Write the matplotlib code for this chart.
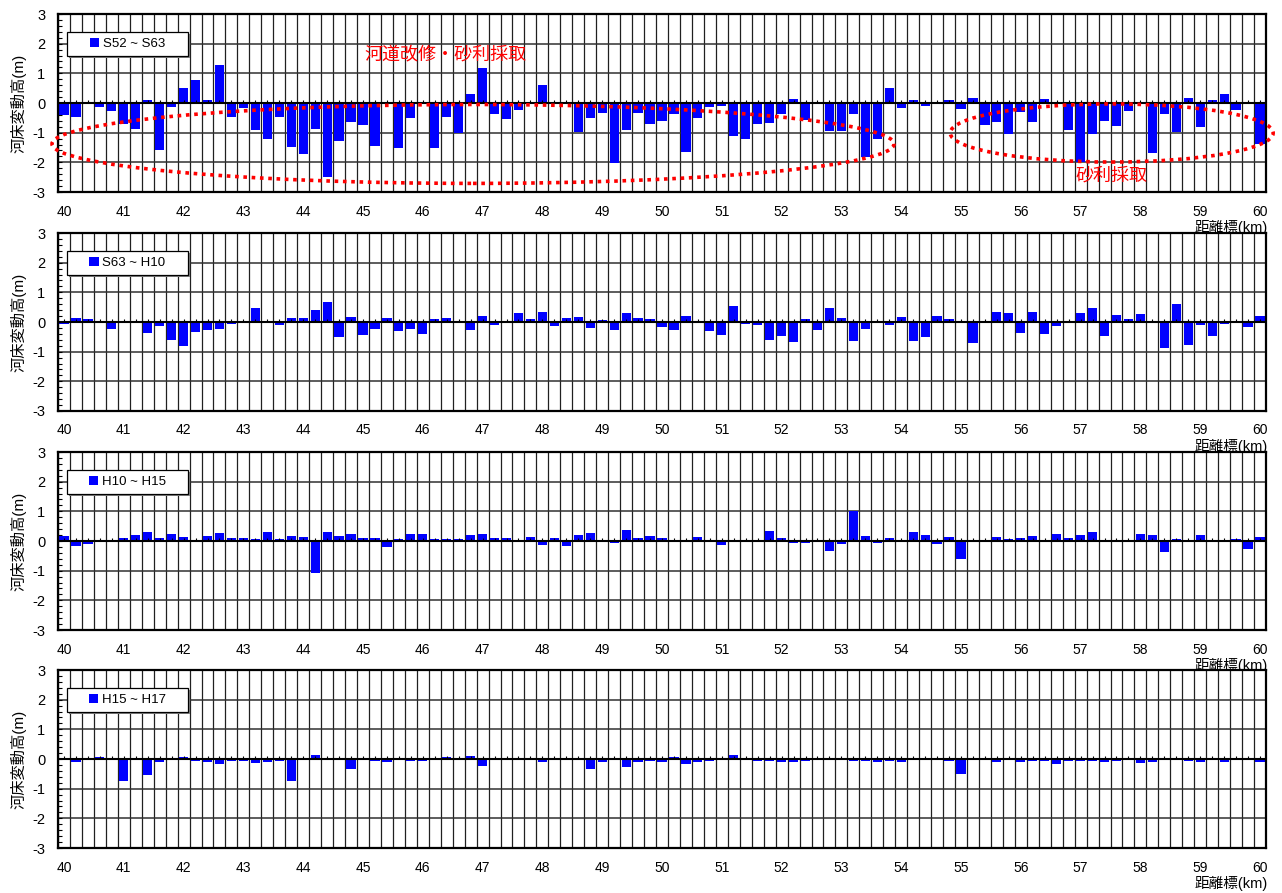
import numpy as np
import matplotlib
matplotlib.use("Agg")
import matplotlib.pyplot as plt
from matplotlib.patches import Ellipse, Rectangle

plt.rcParams['font.family'] = ['Liberation Sans', 'Noto Sans CJK JP']
plt.rcParams['axes.unicode_minus'] = False

# distance markers 40.0 ... 60.0 km every 0.2 km
km = [round(40 + 0.2 * i, 1) for i in range(101)]

s52_s63 = [-0.40, -0.46, 0.00, -0.12, -0.26, -0.70, -0.87, 0.11, -1.58, -0.12,
           0.49, 0.76, 0.11, 1.27, -0.46, -0.16, -0.90, -1.21, -0.46, -1.48,
           -1.72, -0.87, -2.50, -1.29, -0.64, -0.75, -1.46, 0.00, -1.53, -0.51,
           0.00, -1.53, -0.47, -1.02, 0.31, 1.19, -0.37, -0.54, -0.24, 0.00,
           0.61, 0.00, 0.00, -0.98, -0.51, -0.34, -2.03, -0.92, -0.34, -0.71,
           -0.61, -0.37, -1.66, -0.51, -0.14, -0.10, -1.12, -1.22, -0.71, -0.68,
           -0.37, 0.14, -0.58, 0.00, -0.95, -0.95, -0.37, -1.83, -1.22, 0.51,
           -0.17, 0.10, -0.10, 0.04, 0.10, -0.20, 0.17, -0.75, -0.64, -1.05,
           -0.30, -0.64, 0.14, 0.00, -0.92, -2.00, -1.05, -0.61, -0.78, -0.27,
           0.00, -1.69, -0.37, -0.98, 0.17, -0.81, 0.10, 0.31, -0.24, 0.00, -1.39]

s63_h10 = [-0.07, 0.13, 0.10, -0.05, -0.24, 0.00, -0.05, -0.37, -0.13, -0.61,
           -0.81, -0.34, -0.27, -0.24, -0.07, 0.00, 0.47, 0.03, -0.10, 0.13,
           0.13, 0.40, 0.67, -0.51, 0.17, -0.44, -0.24, 0.13, -0.30, -0.24,
           -0.40, 0.10, 0.13, 0.00, -0.27, 0.20, -0.10, 0.03, 0.30, 0.10,
           0.34, -0.13, 0.13, 0.17, -0.20, 0.07, -0.27, 0.30, 0.13, 0.10,
           -0.17, -0.27, 0.20, 0.00, -0.30, -0.44, 0.54, -0.07, -0.10, -0.61,
           -0.47, -0.67, 0.10, -0.27, 0.47, 0.13, -0.64, -0.24, 0.00, -0.10,
           0.17, -0.64, -0.51, 0.20, 0.10, 0.00, -0.71, 0.00, 0.34, 0.30,
           -0.37, 0.34, -0.40, -0.13, 0.00, 0.30, 0.47, -0.47, 0.24, 0.10,
           0.27, 0.03, -0.88, 0.61, -0.78, -0.10, -0.47, -0.07, 0.03, -0.17, 0.20]

h10_h15 = [0.17, -0.16, -0.09, -0.02, 0.03, 0.10, 0.20, 0.30, 0.10, 0.24,
           0.13, 0.01, 0.17, 0.27, 0.10, 0.10, 0.07, 0.30, 0.07, 0.17,
           0.13, -1.07, 0.30, 0.17, 0.24, 0.10, 0.10, -0.19, 0.07, 0.24,
           0.24, 0.07, 0.07, 0.07, 0.20, 0.24, 0.10, 0.10, 0.03, 0.13,
           -0.12, 0.10, -0.16, 0.20, 0.27, 0.03, -0.06, 0.37, 0.10, 0.17,
           0.10, 0.03, 0.02, 0.13, 0.03, -0.12, 0.02, 0.01, 0.00, 0.34,
           0.10, -0.06, -0.06, 0.03, -0.33, -0.09, 1.00, 0.17, -0.06, 0.10,
           0.03, 0.30, 0.20, -0.09, 0.13, -0.60, 0.02, -0.02, 0.13, 0.07,
           0.10, 0.17, 0.02, 0.24, 0.10, 0.20, 0.30, 0.02, -0.01, 0.00,
           0.24, 0.20, -0.36, 0.07, 0.02, 0.20, 0.02, 0.01, 0.07, -0.26, 0.13]

h15_h17 = [-0.02, -0.10, -0.03, 0.06, 0.00, -0.75, -0.02, -0.55, -0.10, -0.03,
           0.06, -0.07, -0.10, -0.17, -0.07, -0.07, -0.14, -0.10, -0.07, -0.75,
           -0.03, 0.12, -0.03, 0.01, -0.34, -0.03, -0.07, -0.10, -0.03, -0.07,
           -0.07, -0.03, 0.06, -0.03, 0.09, -0.24, 0.00, 0.01, 0.00, -0.03,
           -0.10, 0.00, -0.03, 0.00, -0.34, -0.10, 0.00, -0.27, -0.10, -0.07,
           -0.10, 0.06, -0.17, -0.10, -0.07, -0.03, 0.12, -0.03, -0.07, -0.07,
           -0.10, -0.10, -0.07, 0.00, 0.00, -0.03, -0.07, -0.07, -0.10, -0.07,
           -0.10, -0.03, -0.03, -0.03, -0.07, -0.51, 0.00, -0.03, -0.10, -0.03,
           -0.10, -0.07, -0.07, -0.17, -0.07, -0.07, -0.07, -0.10, -0.07, -0.03,
           -0.14, -0.10, 0.00, -0.03, -0.07, -0.10, -0.03, -0.10, -0.03, 0.00, -0.10]

series = [s52_s63, s63_h10, h10_h15, h15_h17]
labels = ["S52 ~ S63", "S63 ~ H10", "H10 ~ H15", "H15 ~ H17"]

W, H = 1282, 893
fig = plt.figure(figsize=(W / 100, H / 100), dpi=100)

tops = [14, 233, 452, 670]
ph = 178
idx = np.arange(len(km))

axes = []
for top, vals, lab in zip(tops, series, labels):
    ax = fig.add_axes([58 / W, 1 - (top + ph) / H, 1208 / W, ph / H])
    axes.append(ax)
    ax.bar(idx, vals, width=0.77, color='#0000FF', zorder=3, label=lab)
    ax.set_xlim(-0.5, len(km) - 0.5)
    ax.set_ylim(-3, 3)

    ax.set_xticks(idx[::5])
    ax.set_xticklabels([f"{k:.0f}" for k in km[::5]])
    ax.set_xticks(np.arange(-0.5, len(km), 1), minor=True)
    ax.grid(which='minor', axis='x', color='#202020', lw=0.9, zorder=1)
    ax.set_yticks(range(-3, 4))
    ax.set_yticks(np.arange(-3, 3.01, 0.2), minor=True)
    ax.grid(which='major', axis='y', color='#303030', lw=1.1, zorder=1)
    ax.tick_params(axis='x', which='both', length=0, pad=9, labelsize=10)
    ax.tick_params(axis='y', which='both', direction='in', length=3,
                   width=0.8, pad=9, labelsize=10.5)
    for s in ax.spines.values():
        s.set_linewidth(1.6)
        s.set_zorder(5)

    ax.axhline(0, color='black', lw=1.5, zorder=4)
    ax.vlines(idx, 0, 0.11, color='black', lw=0.8, zorder=4)

    ax.set_ylabel("河床変動高(m)", fontsize=11, labelpad=4)
    ax.text(1.0017, -0.2, "距離標(km)", transform=ax.transAxes,
            ha='right', va='center', fontsize=10.5)

    # legend box with shadow
    bx, by, bw, bh = 0.0075, 0.764, 0.100, 0.135
    ax.add_patch(Rectangle((bx + 0.0017, by - 0.011), bw, bh,
                           transform=ax.transAxes, facecolor='#808080',
                           edgecolor='none', zorder=6))
    ax.add_patch(Rectangle((bx, by), bw, bh, transform=ax.transAxes,
                           facecolor='white', edgecolor='black', lw=0.9,
                           zorder=7))
    leg = ax.legend(loc='center', bbox_to_anchor=(bx + bw / 2, by + bh / 2),
                    frameon=False, fontsize=9.5, handlelength=0.7,
                    handleheight=0.7, handletextpad=0.3, borderpad=0)
    leg.set_zorder(8)

# annotations on the first panel
ax = axes[0]
ax.add_patch(Ellipse((34.2, -1.38), 70.4, 2.66, fill=False, edgecolor='#FF0000',
                     lw=2.6, linestyle=(0, (1, 1.3)), zorder=6, clip_on=False))
ax.add_patch(Ellipse((87.6, -1.01), 27.0, 1.96, fill=False, edgecolor='#FF0000',
                     lw=2.6, linestyle=(0, (1, 1.3)), zorder=6, clip_on=False))
ax.text(31.9, 1.63, "河道改修・砂利採取", color='#FF0000', fontsize=13,
        ha='center', va='center', zorder=7)
ax.text(87.6, -2.47, "砂利採取", color='#FF0000', fontsize=13,
        ha='center', va='center', zorder=7)

fig.savefig("out.png", dpi=100)
